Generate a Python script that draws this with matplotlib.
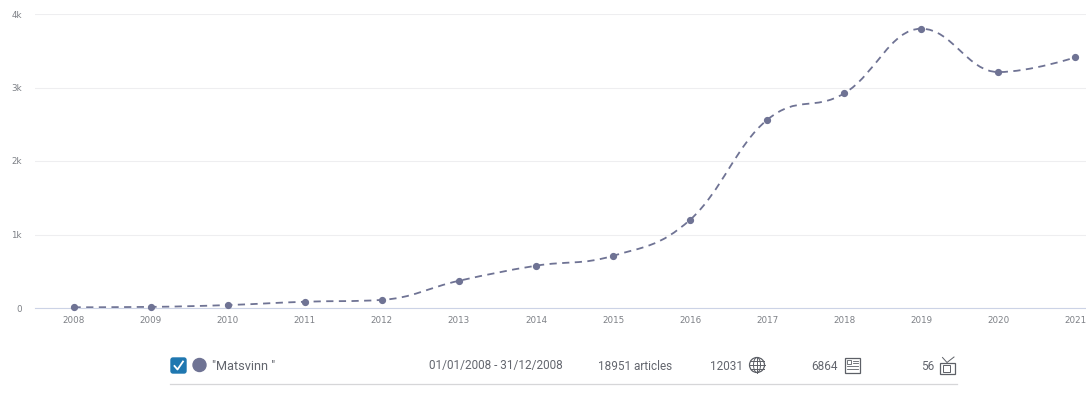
import numpy as np
import matplotlib
matplotlib.use('Agg')
import matplotlib.pyplot as plt
from matplotlib.path import Path
from matplotlib.patches import PathPatch, Circle, Rectangle, FancyBboxPatch

years = [2008, 2009, 2010, 2011, 2012, 2013, 2014, 2015, 2016, 2017, 2018, 2019, 2020, 2021]
articles = [10, 15, 40, 85, 110, 370, 575, 710, 1200, 2560, 2920, 3800, 3210, 3410]
y_ticks = [0, 1000, 2000, 3000, 4000]
y_labels = ['0', '1k', '2k', '3k', '4k']

term = '"Matsvinn "'
date_range = '01/01/2008 - 31/12/2008'
total_label = '18951 articles'
web_count = '12031'
print_count = '6864'
tv_count = '56'

LINE = '#6f7394'
TEXT = '#63666e'
W, H = 1086, 403

plt.rcParams['font.family'] = ['Roboto', 'DejaVu Sans']


def spline_path(x, y):
    # same idea as a highcharts spline: control points from the neighbours
    smoothing = 1.5
    denom = smoothing + 1
    verts = [(x[0], y[0])]
    codes = [Path.MOVETO]
    left = [None] * len(x)
    right = [None] * len(x)
    for i in range(1, len(x) - 1):
        lx = (smoothing * x[i] + x[i - 1]) / denom
        ly = (smoothing * y[i] + y[i - 1]) / denom
        rx = (smoothing * x[i] + x[i + 1]) / denom
        ry = (smoothing * y[i] + y[i + 1]) / denom
        corr = (ry - ly) * (rx - x[i]) / (rx - lx) + y[i] - ry
        ly += corr
        ry += corr
        # keep the curve from overshooting the points
        if ly > y[i - 1] and ly > y[i]:
            ly = max(y[i - 1], y[i])
            ry = 2 * y[i] - ly
        elif ly < y[i - 1] and ly < y[i]:
            ly = min(y[i - 1], y[i])
            ry = 2 * y[i] - ly
        if ry > y[i + 1] and ry > y[i]:
            ry = max(y[i + 1], y[i])
            ly = 2 * y[i] - ry
        elif ry < y[i + 1] and ry < y[i]:
            ry = min(y[i + 1], y[i])
            ly = 2 * y[i] - ry
        left[i] = (lx, ly)
        right[i] = (rx, ry)
    right[0] = (x[0], y[0])
    left[-1] = (x[-1], y[-1])
    for i in range(1, len(x)):
        verts += [right[i - 1], left[i], (x[i], y[i])]
        codes += [Path.CURVE4, Path.CURVE4, Path.CURVE4]
    return Path(verts, codes)


fig = plt.figure(figsize=(W / 100, H / 100), dpi=100)

# plot area: zero line at y=308, 4k line at y=14
ax = fig.add_axes([35 / W, (H - 308) / H, (W - 35) / W, 294 / H])
ax.set_xlim(2007.5, 2021.137)
ax.set_ylim(0, 4000)
for s in ['top', 'right', 'left']:
    ax.spines[s].set_visible(False)
ax.spines['bottom'].set_color('#ccd3e6')
ax.spines['bottom'].set_linewidth(0.8)
ax.set_yticks(y_ticks)
ax.set_yticklabels(y_labels, family='DejaVu Sans')
ax.set_xticks(years)
ax.set_xticklabels([str(y) for y in years], family='DejaVu Sans')
ax.tick_params(axis='both', length=0, labelsize=6.3, labelcolor='#7d8086')
ax.tick_params(axis='x', pad=6)
ax.tick_params(axis='y', pad=9.4)
ax.grid(axis='y', color='#eeeeF0', linewidth=0.8)
ax.grid(axis='x', visible=False)
ax.set_axisbelow(True)

ax.add_patch(PathPatch(spline_path(years, articles), fill=False, edgecolor=LINE,
                       linewidth=1.3, linestyle=(0, (4, 3))))
ax.plot(years, articles, 'o', color=LINE, markersize=4.2, clip_on=False, zorder=5)

# legend row is placed in pixels
leg = fig.add_axes([0, 0, 1, 1], facecolor='none')
leg.set_xlim(0, W)
leg.set_ylim(H, 0)
leg.axis('off')

leg.plot([170, 957], [383.5, 383.5], color='#d6d6d8', linewidth=0.9)

leg.add_patch(FancyBboxPatch((171, 358), 15, 15, boxstyle='round,pad=0,rounding_size=2',
                             facecolor='#1f77b0', edgecolor='#1f77b0', linewidth=1))
leg.plot([174.5, 177.5, 183], [366, 369.5, 361.5], color='white', linewidth=1.3)
leg.add_patch(Circle((199.5, 365), 6.5, color=LINE))

txt = dict(color=TEXT, fontsize=8.5, va='center')
leg.text(212, 366, term, ha='left', **dict(txt, fontsize=9.2))
leg.text(429, 366, date_range, ha='left', **txt)
leg.text(598, 366, total_label, ha='left', **txt)
leg.text(743, 366, web_count, ha='right', **txt)
leg.text(838, 366, print_count, ha='right', **txt)
leg.text(934, 366, tv_count, ha='right', **txt)

# globe icon
ICON = '#5d6067'
leg.add_patch(Circle((757, 365), 7.5, fill=False, edgecolor=ICON, linewidth=0.9))
t = np.linspace(0, 2 * np.pi, 60)
leg.plot(757 + 3.5 * np.cos(t), 365 + 7.5 * np.sin(t), color=ICON, linewidth=0.7)
leg.plot([757, 757], [357.5, 372.5], color=ICON, linewidth=0.7)
leg.plot([749.5, 764.5], [365, 365], color=ICON, linewidth=0.7)
leg.plot([750.5, 763.5], [361, 361], color=ICON, linewidth=0.7)
leg.plot([750.5, 763.5], [369, 369], color=ICON, linewidth=0.7)

# newspaper icon
leg.add_patch(Rectangle((844.5, 357.5), 15, 15, fill=False, edgecolor=ICON, linewidth=0.9))
leg.add_patch(Rectangle((847, 360), 4, 3.5, fill=False, edgecolor=ICON, linewidth=0.6))
leg.plot([853, 857.5], [360.5, 360.5], color=ICON, linewidth=0.6)
leg.plot([853, 857.5], [363, 363], color=ICON, linewidth=0.6)
leg.plot([847, 857.5], [366, 366], color=ICON, linewidth=0.6)
leg.plot([847, 857.5], [369, 369], color=ICON, linewidth=0.6)

# tv icon
leg.add_patch(Rectangle((939.5, 362.5), 15.5, 11, fill=False, edgecolor=ICON, linewidth=0.9))
leg.add_patch(Rectangle((942.5, 365), 7.5, 6.5, fill=False, edgecolor=ICON, linewidth=0.7))
leg.plot([942.5, 947, 954], [357.5, 362.5, 357], color=ICON, linewidth=0.7)

fig.savefig('out.png', dpi=100)
